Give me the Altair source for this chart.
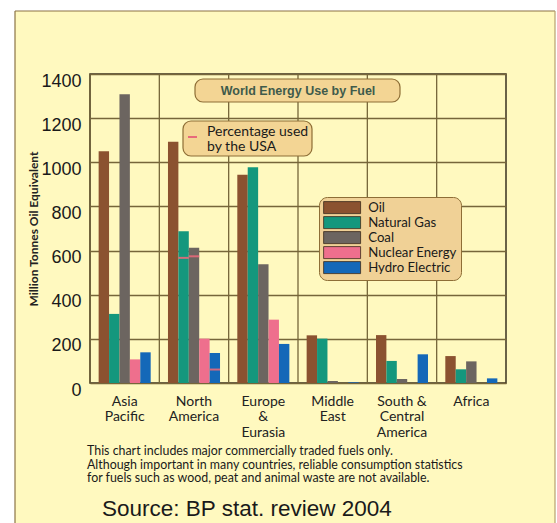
import altair as alt
import pandas as pd

regions = ["Asia|Pacific", "North|America", "Europe|&|Eurasia", "Middle|East",
           "South &|Central|America", "Africa"]
fuels = ["Oil", "Natural Gas", "Coal", "Nuclear Energy", "Hydro  Electric"]
colors = ["#8B5230", "#14977D", "#6C6560", "#EE6F8D", "#1468B8"]

oil = [1050, 1093, 944, 216, 217, 122]
gas = [313, 687, 977, 201, 100, 62]
coal = [1308, 613, 538, 9, 18, 98]
nuclear = [107, 201, 287, 0, 0, 0]
hydro = [139, 136, 177, 3, 130, 21]

usa_region = "North|America"
usa_fuels = ["Natural Gas", "Coal", "Hydro  Electric"]
usa_values = [567, 574, 61]

y_ticks = [0, 200, 400, 600, 800, 1000, 1200, 1400]

title_text = "World Energy Use by Fuel"
usa_text = ["Percentage used", "by the USA"]
note_lines = ["This chart includes  major commercially traded fuels only.",
              "Although important in many countries, reliable consumption statistics",
              "for fuels such as wood, peat and animal waste are not available."]
source_text = "Source: BP stat. review 2004"
y_title = "Million Tonnes Oil Equivalent"

rows = []
for fuel, vals in zip(fuels, [oil, gas, coal, nuclear, hydro]):
    for r, v in zip(regions, vals):
        rows.append({"region": r, "fuel": fuel, "value": v})
df = pd.DataFrame(rows)
usa_df = pd.DataFrame({"region": [usa_region] * len(usa_fuels), "fuel": usa_fuels, "value": usa_values})
reg_df = pd.DataFrame({"region": regions})
one = pd.DataFrame({"k": [0]})

BG = "#FFF9BF"
GRID = "#76663A"

xscale = alt.Scale(domain=regions, paddingInner=0, paddingOuter=0)
offscale = alt.Scale(domain=fuels, paddingInner=0, paddingOuter=0.83)
yscale = alt.Scale(domain=[0, 1400], nice=False)

xaxis = alt.Axis(title=None, labelExpr="split(datum.label, '|')", labelFont="Lato",
                 labelFontSize=14, labelColor="#222222", labelLineHeight=15.5,
                 labelPadding=11, ticks=False, domain=False, grid=False, labelAngle=0)
yaxis = alt.Axis(values=y_ticks, format="d", title=y_title, titleFont="Lato", titleFontSize=12,
                 titleFontWeight="bold", titleColor="#222222", titleX=-57, titleY=154.5,
                 titleAngle=270, titleAlign="center", titleBaseline="middle",
                 labelFont="Liberation Sans", labelFontSize=18, labelColor="#1a1a1a",
                 labelPadding=9, labelOffset=7, ticks=False, domain=False, grid=True,
                 gridColor=GRID, gridWidth=1.3)


def X(**kw):
    return alt.X("region:N", scale=xscale, sort=regions, axis=xaxis, **kw)


def Y():
    return alt.Y("value:Q", scale=yscale, axis=yaxis)


def rect(x, x2, y, y2, fill, stroke=None, sw=0, cr=0):
    kw = dict(fill=fill, cornerRadius=cr)
    if stroke:
        kw.update(stroke=stroke, strokeWidth=sw)
    return alt.Chart(one).mark_rect(**kw).encode(
        x=alt.value(x), x2=alt.value(x2), y=alt.value(y), y2=alt.value(y2))


def rule(x, x2, y, y2, color, sw):
    return alt.Chart(one).mark_rule(color=color, strokeWidth=sw).encode(
        x=alt.value(x), x2=alt.value(x2), y=alt.value(y), y2=alt.value(y2))


strips = [
    rect(-90, -75, -74, 449, "white"),
    rect(-90, 467, -74, -63, "white"),
    rect(465, 467, -74, 449, "white"),
    rule(-75, -75, -63, 449, "#8B7345", 1.2),
    rule(-75, 465, -63, -63, "#8B7345", 1.2),
    rule(465, 465, -63, 449, "#B8A070", 1.2),
]

group_rules = alt.Chart(reg_df).mark_rule(color=GRID, strokeWidth=1.3).encode(
    x=X(bandPosition=0))

bars = alt.Chart(df).mark_bar().encode(
    x=X(),
    xOffset=alt.XOffset("fuel:N", scale=offscale, sort=fuels),
    y=Y(),
    color=alt.Color("fuel:N", scale=alt.Scale(domain=fuels, range=colors), sort=fuels,
                    legend=alt.Legend(title=None, orient="none", legendX=229, legendY=123,
                                      fillColor="#F0D196", strokeColor="#8E6E36",
                                      cornerRadius=8, padding=4,
                                      symbolType="M-3.08,-1H3.08V1H-3.08Z", symbolSize=144,
                                      symbolOffset=12.5,
                                      symbolStrokeColor="#3a2a1a", symbolStrokeWidth=0.8,
                                      symbolOpacity=1, labelFont="Lato", labelFontSize=13.2,
                                      labelColor="#1a1a1a", labelOffset=19.5, rowPadding=-1,
                                      labelLimit=200)),
)

ticks = alt.Chart(usa_df).mark_tick(color="#E7697A", thickness=2, size=10.4, opacity=0.9).encode(
    x=X(),
    xOffset=alt.XOffset("fuel:N", scale=offscale, sort=fuels),
    y=Y(),
)

title_box = rect(105, 310, 5, 28, "#F3D594", "#8E6E36", 1.2, 8)
title_txt = alt.Chart(one).mark_text(text=title_text, font="Liberation Sans", fontWeight="bold",
                                     fontSize=12.5, color="#3F5B4B", align="center",
                                     baseline="middle").encode(x=alt.value(208), y=alt.value(17))
usa_box = rect(93, 222, 47, 82, "#F3D594", "#8E6E36", 1.2, 8)
usa_dash = rule(98, 107, 63, 63, "#E7697A", 2)
usa_txt = alt.Chart(one).mark_text(text=usa_text, font="Lato", fontSize=14, color="#1a1a1a",
                                   align="left", baseline="middle", lineHeight=15).encode(
    x=alt.value(117), y=alt.value(58))

note_txt = alt.Chart(one).mark_text(text=note_lines, font="Lato", fontSize=12.4, color="#1a1a1a",
                                    align="left", baseline="alphabetic", lineHeight=13.5).encode(
    x=alt.value(-3), y=alt.value(381))
source_txt = alt.Chart(one).mark_text(text=source_text, font="Liberation Sans", fontSize=22.5,
                                      color="#1a1a1a", align="left", baseline="middle").encode(
    x=alt.value(12), y=alt.value(435))

chart = alt.layer(
    *strips, group_rules, bars, ticks, title_box, title_txt, usa_box, usa_dash, usa_txt,
    note_txt, source_txt
).properties(
    width=416, height=309,
    padding={"left": 90, "top": 74, "right": 51, "bottom": 140},
    autosize=alt.AutoSizeParams(type="none"),
    background=BG,
).configure_view(stroke="#3a3020", strokeWidth=1.5)

chart.save("out.html", embed_options={"renderer": "svg", "actions": False})
